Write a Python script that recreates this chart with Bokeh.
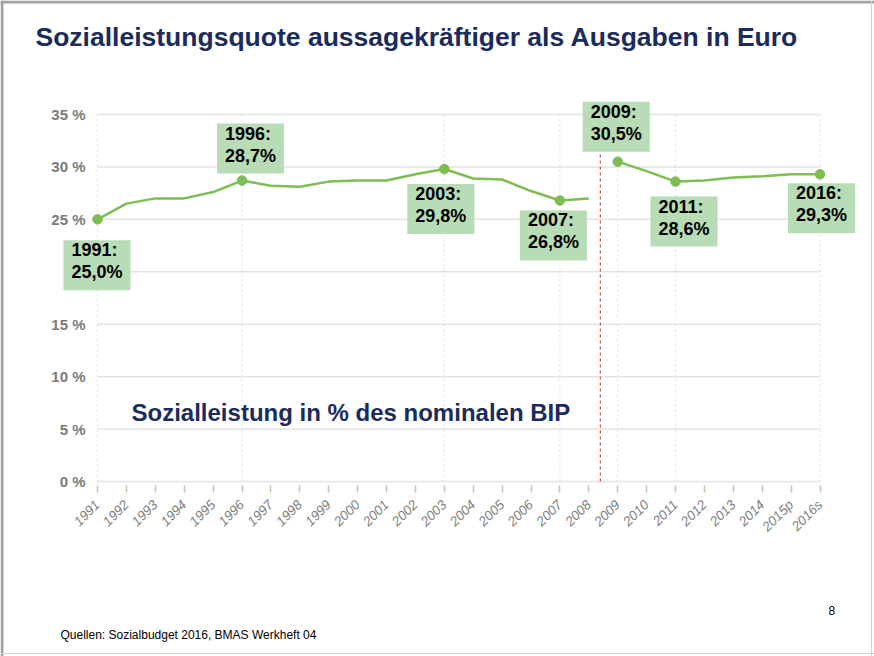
import math
from bokeh.plotting import figure
from bokeh.models import (FixedTicker, PrintfTickFormatter, Label, Span)
from bokeh.embed import file_html
from bokeh.resources import INLINE

# ---------------- data ----------------
years = ["1991", "1992", "1993", "1994", "1995", "1996", "1997", "1998", "1999",
         "2000", "2001", "2002", "2003", "2004", "2005", "2006", "2007", "2008",
         "2009", "2010", "2011", "2012", "2013", "2014", "2015p", "2016s"]
quote = [25.0, 26.5, 27.0, 27.0, 27.6, 28.7, 28.2, 28.1, 28.6,
         28.7, 28.7, 29.3, 29.8, 28.9, 28.8, 27.7, 26.8, 27.0,
         30.5, 29.6, 28.6, 28.7, 29.0, 29.1, 29.3, 29.3]
break_after = "2008"          # series break
highlight_years = ["1991", "1996", "2003", "2007", "2009", "2011", "2016s"]
highlight_texts = ["1991:\n25,0%", "1996:\n28,7%", "2003:\n29,8%", "2007:\n26,8%",
                   "2009:\n30,5%", "2011:\n28,6%", "2016:\n29,3%"]
y_ticks = [0, 5, 10, 15, 20, 25, 30, 35]
hidden_y_labels = [20]        # covered in the original slide

title_text = "Sozialleistungsquote aussagekräftiger als Ausgaben in Euro"
inner_text = "Sozialleistung in % des nominalen BIP"
source_text = "Quellen: Sozialbudget 2016, BMAS Werkheft 04"
page_text = "8"

# ---------------- styles / layout ----------------
GREEN = "#7dbd52"
BOX = "#b8dcb5"
NAVY = "#1b2b5b"
GRAY_TXT = "#7a7a7a"
FONT = "Liberation Sans"
# box top-left offsets (px, right/down) relative to the highlighted point
box_offsets = [(-34, 21), (-25, -57), (-37, 15), (-40, 10), (-35, -60), (-25, 15), (-32, 9)]

W, H = 874, 656
# pixel placement of the data area inside the canvas
PX_LEFT, PX_RIGHT = 97, 819.5    # first / last year
PX_TOP, PX_ZERO = 114, 481       # top tick / zero line
n = len(years) - 1
ppx = (PX_RIGHT - PX_LEFT) / n
ppy = (PX_ZERO - PX_TOP) / (y_ticks[-1] - y_ticks[0])
x_start = -PX_LEFT / ppx
x_end = n + (W - PX_RIGHT) / ppx
y_start = -(H - PX_ZERO) / ppy
y_end = PX_ZERO / ppy

idx = list(range(len(years)))
brk = years.index(break_after)

p = figure(width=W, height=H, output_backend="svg", toolbar_location=None,
           x_range=(x_start, x_end), y_range=(y_start, y_end),
           min_border=0)
p.outline_line_color = None
p.background_fill_color = "white"
p.border_fill_color = "white"
p.xgrid.grid_line_color = None
p.ygrid.grid_line_color = None

# slide frame
p.add_layout(Span(location=1.5, dimension="height", location_units="screen",
                  line_color="#a3a3a3", line_width=3))
p.add_layout(Span(location=H - 1.5, dimension="width", location_units="screen",
                  line_color="#a3a3a3", line_width=3))
p.add_layout(Span(location=W - 3, dimension="height", location_units="screen",
                  line_color="#d4d4d4", line_width=1))
p.add_layout(Span(location=3, dimension="width", location_units="screen",
                  line_color="#d4d4d4", line_width=1))

# horizontal grid lines across the year span
p.segment(x0=[idx[0]] * len(y_ticks), y0=y_ticks, x1=[idx[-1]] * len(y_ticks), y1=y_ticks,
          line_color="#e3e3e3", line_width=1.5)

# vertical dotted guides at highlighted years
hx = [years.index(y) for y in highlight_years]
p.segment(x0=hx, y0=[y_ticks[0]] * len(hx), x1=hx, y1=[y_ticks[-1]] * len(hx),
          line_color="#e0e0e0", line_width=1.2, line_dash="2 3")

# red dashed break line
bx = brk + 0.4
p.segment(x0=[bx], y0=[0], x1=[bx], y1=[31.3], line_color="#d25a58",
          line_width=1.3, line_dash="3 3")

# series
p.line(idx[:brk + 1], quote[:brk + 1], line_color=GREEN, line_width=2.5)
p.line(idx[brk + 1:], quote[brk + 1:], line_color=GREEN, line_width=2.5)
hy = [quote[i] for i in hx]
p.scatter(hx, hy, size=9.5, fill_color=GREEN, line_color=GREEN)

# axes (fixed inside the canvas)
xa = p.xaxis[0]
xa.fixed_location = -4 / ppy
xa.ticker = FixedTicker(ticks=idx)
xa.major_label_overrides = {i: y for i, y in enumerate(years)}
xa.major_label_orientation = math.pi / 4
xa.axis_line_color = None
xa.major_tick_in = 0
xa.major_tick_out = 7
xa.major_tick_line_color = "#b7c9a6"
xa.major_tick_line_width = 1.5
xa.minor_tick_line_color = None
xa.major_label_text_font = FONT
xa.major_label_text_font_style = "italic"
xa.major_label_text_font_size = "13.5px"
xa.major_label_text_color = "#808080"
xa.major_label_standoff = 10

ya = p.yaxis[0]
ya.fixed_location = idx[0]
ya.ticker = FixedTicker(ticks=y_ticks)
ya.formatter = PrintfTickFormatter(format="%d %%")
ya.major_label_overrides = {v: "" for v in hidden_y_labels}
ya.axis_line_color = None
ya.major_tick_in = 0
ya.major_tick_out = 0
ya.major_tick_line_color = None
ya.minor_tick_line_color = None
ya.major_label_text_font = FONT
ya.major_label_text_font_style = "bold"
ya.major_label_text_font_size = "15px"
ya.major_label_text_color = GRAY_TXT
ya.major_label_standoff = 12

# highlight boxes
for (xi, yi, t, (dx, dy)) in zip(hx, hy, highlight_texts, box_offsets):
    p.add_layout(Label(x=xi, y=yi, text=t, x_offset=dx, y_offset=-dy,
                       text_align="left", text_baseline="top",
                       text_font=FONT, text_font_style="bold", text_font_size="18px",
                       text_color="black", text_line_height=1.1,
                       background_fill_color=BOX, padding=(8, 8, 0, 8)))

# texts in screen units (canvas = frame)
p.add_layout(Label(x=35, y=H - 36, x_units="screen", y_units="screen", text=title_text,
                   text_font=FONT, text_font_style="bold", text_font_size="26.5px",
                   text_color=NAVY, text_baseline="middle"))
p.add_layout(Label(x=131, y=H - 412, x_units="screen", y_units="screen", text=inner_text,
                   text_font=FONT, text_font_style="bold", text_font_size="24px",
                   text_color=NAVY, text_baseline="middle"))
p.add_layout(Label(x=60, y=H - 634, x_units="screen", y_units="screen", text=source_text,
                   text_font=FONT, text_font_size="12px", text_color="black",
                   text_baseline="middle"))
p.add_layout(Label(x=828, y=H - 610, x_units="screen", y_units="screen", text=page_text,
                   text_font=FONT, text_font_size="12px", text_color="black",
                   text_baseline="middle"))

open("out.html", "w").write(file_html(p, INLINE))
